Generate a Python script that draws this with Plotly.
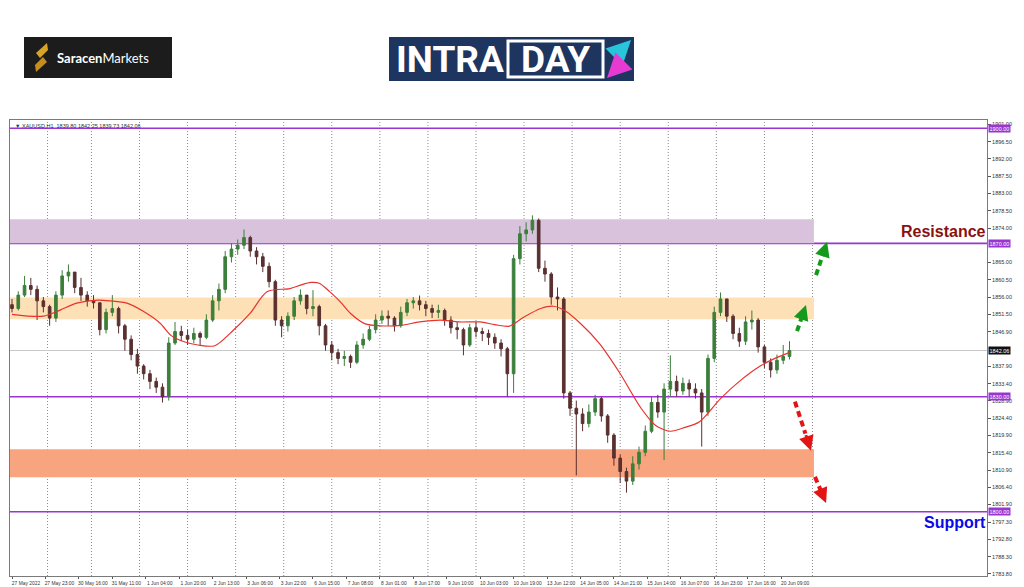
import plotly.graph_objects as go

# ---------------- data ----------------
time_labels = ["27 May 2022", "27 May 23:00", "30 May 16:00", "31 May 11:00", "1 Jun 04:00",
               "1 Jun 20:00", "2 Jun 13:00", "3 Jun 06:00", "3 Jun 22:00", "6 Jun 15:00",
               "7 Jun 08:00", "8 Jun 01:00", "8 Jun 17:00", "9 Jun 10:00", "10 Jun 03:00",
               "10 Jun 19:00", "13 Jun 12:00", "14 Jun 05:00", "14 Jun 21:00", "15 Jun 14:00",
               "16 Jun 07:00", "16 Jun 23:00", "17 Jun 16:00", "20 Jun 09:00"]
time_label_bars = [0, 16, 32, 48, 64, 80, 96, 112, 128, 144, 160, 176, 192, 208, 224,
                   240, 256, 272, 288, 304, 320, 336, 352, 368]
day_start_bars = [17, 38, 61, 84, 107, 130, 153, 176, 199, 222, 245, 268, 291, 314, 337, 360, 383]

price_ticks = [1901.0, 1896.5, 1892.0, 1887.5, 1883.0, 1878.5, 1874.0, 1865.0, 1860.5,
               1856.0, 1851.5, 1846.9, 1837.9, 1833.4, 1828.9, 1824.4, 1819.9, 1815.4,
               1810.9, 1806.4, 1801.9, 1797.3, 1792.8, 1788.3, 1783.8]
price_tick_text = ["1901.00", "1896.50", "1892.00", "1887.50", "1883.00", "1878.50", "1874.00",
                   "1865.00", "1860.50", "1856.00", "1851.50", "1846.90",
                   "1837.90", "1833.40", "1828.90", "1824.40", "1819.90", "1815.40", "1810.90",
                   "1806.40", "1801.90", "1797.30", "1792.80", "1788.30", "1783.80"]

# candles: one candle per 3 hourly bars
candle_bars = list(range(0, 375, 3))
first_open = 1854.0
closes = [1853.0, 1856.5, 1859.0, 1858.0, 1855.0, 1853.5, 1850.5, 1856.5, 1861.5, 1862.5,
          1858.5, 1856.5, 1855.0, 1854.5, 1847.5, 1852.0, 1853.0, 1848.5, 1845.0, 1841.0,
          1838.0, 1836.0, 1834.0, 1832.5, 1830.0, 1844.0, 1847.0, 1846.0, 1845.0, 1846.5,
          1845.5, 1850.0, 1855.0, 1858.0, 1866.5, 1868.5, 1869.5, 1871.5, 1868.0, 1866.5,
          1864.0, 1860.0, 1850.0, 1848.5, 1851.0, 1855.0, 1856.5, 1853.0, 1853.5, 1848.5,
          1843.5, 1841.5, 1840.0, 1840.5, 1839.0, 1843.5, 1845.0, 1847.5, 1850.0, 1851.0,
          1850.5, 1848.5, 1852.0, 1854.5, 1855.0, 1854.0, 1853.0, 1852.0, 1852.5, 1850.0,
          1848.0, 1847.5, 1843.5, 1848.0, 1847.0, 1846.5, 1845.5, 1844.0, 1842.5, 1836.0,
          1866.0, 1872.5, 1873.5, 1876.0, 1863.5, 1862.0, 1856.0, 1855.5, 1831.0, 1827.0,
          1825.5, 1823.0, 1826.0, 1829.5, 1825.0, 1820.0, 1814.0, 1810.5, 1808.0, 1812.5,
          1815.5, 1821.0, 1828.5, 1826.0, 1832.0, 1834.0, 1831.5, 1833.5, 1832.0, 1831.0,
          1826.0, 1840.0, 1852.0, 1855.5, 1851.0, 1846.5, 1844.5, 1849.5, 1850.0, 1843.0,
          1839.0, 1837.0, 1839.5, 1840.5, 1842.06]
highs = [1855.5, 1857.5, 1861.5, 1861.0, 1859.0, 1856.0, 1854.0, 1857.5, 1863.0, 1864.5,
         1862.0, 1861.0, 1857.5, 1856.5, 1854.5, 1853.0, 1856.5, 1853.5, 1849.0, 1846.0,
         1842.5, 1838.5, 1837.0, 1835.0, 1833.5, 1845.5, 1849.5, 1848.5, 1847.5, 1848.0,
         1847.0, 1851.5, 1856.5, 1859.5, 1868.0, 1870.0, 1871.0, 1873.6, 1872.0, 1869.0,
         1867.5, 1865.0, 1860.5, 1851.0, 1852.0, 1856.0, 1858.0, 1856.5, 1857.8, 1854.0,
         1849.0, 1844.5, 1842.5, 1842.0, 1841.0, 1844.5, 1846.5, 1848.5, 1851.5, 1852.5,
         1852.5, 1851.0, 1853.5, 1855.5, 1856.0, 1856.4, 1855.0, 1854.0, 1854.0, 1853.0,
         1851.0, 1849.5, 1848.0, 1849.0, 1849.5, 1848.0, 1847.5, 1846.5, 1845.0, 1843.0,
         1867.0, 1874.5, 1875.5, 1877.3, 1876.5, 1865.5, 1862.5, 1858.5, 1856.0, 1831.5,
         1829.0, 1827.0, 1828.0, 1830.5, 1830.0, 1825.5, 1820.5, 1815.0, 1811.5, 1814.5,
         1817.0, 1822.5, 1830.0, 1830.5, 1833.5, 1840.8, 1835.5, 1835.0, 1834.5, 1833.5,
         1832.0, 1841.0, 1853.5, 1857.2, 1855.5, 1851.5, 1848.0, 1851.0, 1852.5, 1850.5,
         1843.5, 1840.0, 1841.0, 1843.5, 1844.5]
lows = [1852.0, 1852.5, 1856.0, 1856.5, 1850.0, 1852.0, 1848.5, 1849.5, 1855.5, 1860.0,
        1857.0, 1855.0, 1853.5, 1853.0, 1846.0, 1846.5, 1851.0, 1846.5, 1842.0, 1839.5,
        1836.0, 1834.5, 1832.0, 1831.0, 1828.5, 1829.0, 1843.5, 1844.5, 1843.5, 1844.0,
        1843.5, 1845.0, 1849.5, 1852.5, 1857.0, 1865.0, 1867.0, 1868.5, 1866.5, 1864.5,
        1862.5, 1858.5, 1848.5, 1845.5, 1847.0, 1850.0, 1854.0, 1851.5, 1851.0, 1846.0,
        1842.0, 1839.5, 1838.5, 1838.0, 1837.5, 1838.5, 1842.5, 1844.5, 1846.5, 1849.0,
        1848.5, 1847.0, 1848.0, 1851.0, 1853.0, 1852.5, 1851.0, 1850.5, 1850.5, 1848.5,
        1846.5, 1845.0, 1840.8, 1843.0, 1845.5, 1844.5, 1843.5, 1842.5, 1840.5, 1830.0,
        1831.0, 1864.5, 1870.5, 1872.5, 1862.5, 1860.0, 1854.0, 1852.5, 1829.5, 1825.0,
        1809.5, 1821.0, 1822.0, 1825.0, 1823.5, 1818.0, 1812.0, 1807.5, 1805.0, 1807.0,
        1811.0, 1814.5, 1820.5, 1824.5, 1813.5, 1830.0, 1830.0, 1830.5, 1830.0, 1829.5,
        1817.0, 1825.0, 1839.0, 1851.0, 1849.5, 1845.0, 1843.0, 1843.5, 1847.5, 1841.5,
        1837.5, 1835.0, 1836.0, 1838.5, 1839.7]
opens = [first_open] + closes[:-1]

# moving average
ma_bars = [0, 15, 23, 31, 41, 47, 55, 63, 71, 76, 82, 89, 97, 106, 114, 122, 133, 138, 143, 147,
           152, 157, 162, 169, 176, 186, 195, 205, 214, 224, 231, 238, 245, 253, 259, 264, 272,
           281, 291, 301, 308, 315, 322, 329, 339, 348, 358, 365, 372]
ma_values = [1851.5, 1851.0, 1852.6, 1854.4, 1855.2, 1855.0, 1854.4, 1852.2, 1849.1, 1846.0,
             1844.4, 1843.5, 1843.3, 1847.4, 1851.8, 1857.4, 1858.2, 1859.1, 1859.8, 1859.6,
             1857.4, 1854.8, 1851.7, 1849.0, 1848.5, 1848.6, 1849.5, 1850.0, 1849.5, 1849.5,
             1848.8, 1848.4, 1850.8, 1853.0, 1853.6, 1852.6, 1849.1, 1843.9, 1836.0, 1827.0,
             1822.5, 1821.0, 1822.0, 1823.5, 1829.5, 1834.0, 1838.0, 1840.0, 1841.5]

# key levels and zones
level_lines = [1900.0, 1870.0, 1830.0, 1800.0]
level_labels = ["1900.00", "1870.00", "1830.00", "1800.00"]
current_price = 1842.06
zones = [(1870.0, 1876.3, "#d9c3dc"), (1850.2, 1855.9, "#fde0b6"), (1809.0, 1816.3, "#f8a47e")]
zone_end_bar = 383.7

# scenario arrows: (start bar, start price, tip bar, tip price, colour)
scenario_arrows = [(375.6, 1847.1, 379.9, 1853.9, "#139a1c"),
                   (384.7, 1861.7, 390.0, 1870.4, "#139a1c"),
                   (374.6, 1828.7, 382.3, 1815.9, "#e31414"),
                   (384.2, 1809.1, 389.5, 1802.3, "#e31414")]

header_text = "▼ XAUUSD,H1  1839.80 1842.25 1839.73 1842.06"

# ---------------- figure ----------------
W, H = 1024, 587
ML, MR, MT, MB = 10, 37, 120, 11
PW, PH = W - ML - MR, H - MT - MB


def px(x):
    return (x - ML) / PW


def py(y):
    return (H - MB - y) / PH


SMALL = dict(family="Liberation Sans", size=5.5, color="#333333")
XFONT = dict(family="Liberation Sans", size=4.9, color="#333333")

fig = go.Figure()

fig.add_trace(go.Candlestick(
    x=candle_bars, open=opens, high=highs, low=lows, close=closes,
    increasing=dict(line=dict(color="#3b7f3b", width=1), fillcolor="#3b7f3b"),
    decreasing=dict(line=dict(color="#5a3030", width=1), fillcolor="#5a3030"),
    whiskerwidth=0, showlegend=False, hoverinfo="skip"))

fig.add_trace(go.Scatter(x=ma_bars, y=ma_values, mode="lines",
                         line=dict(color="#e8322e", width=1.2, shape="spline", smoothing=0.8),
                         showlegend=False, hoverinfo="skip"))

shapes = []
for lo, hi, col in zones:
    shapes.append(dict(type="rect", xref="x", yref="y", x0=-0.96, x1=zone_end_bar, y0=lo, y1=hi,
                       fillcolor=col, line=dict(width=0), layer="below"))
for b in day_start_bars:
    shapes.append(dict(type="line", xref="x", yref="paper", x0=b, x1=b, y0=0, y1=1,
                       line=dict(color="#8c8c8c", width=1, dash="1px,2px"), layer="below"))
shapes.append(dict(type="line", xref="paper", yref="y", x0=0, x1=1, y0=current_price, y1=current_price,
                   line=dict(color="#c8c8c8", width=1), layer="below"))
for lv in level_lines:
    shapes.append(dict(type="line", xref="paper", yref="y", x0=0, x1=1, y0=lv, y1=lv,
                       line=dict(color="#9a35d0", width=1.6), layer="below"))

annotations = []
for x0, y0, x1, y1, col in scenario_arrows:
    hx = x1 + 0.35 * (x0 - x1)
    hy = y1 + 0.35 * (y0 - y1)
    shapes.append(dict(type="line", xref="x", yref="y", x0=x0, y0=y0, x1=hx, y1=hy,
                       line=dict(color=col, width=4, dash="6px,4px")))
    annotations.append(dict(x=x1, y=y1, xref="x", yref="y", ax=hx, ay=hy, axref="x", ayref="y",
                            text="", showarrow=True, arrowhead=2, arrowwidth=3, arrowsize=1,
                            arrowcolor=col, standoff=0))

for lv, lab in zip(level_lines, level_labels):
    annotations.append(dict(x=1, y=lv, xref="paper", yref="y", xanchor="left", yanchor="middle",
                            xshift=1, text=lab, showarrow=False, bgcolor="#9a35d0", borderpad=0.5,
                            font=dict(family="Liberation Sans", size=5.5, color="white")))
annotations.append(dict(x=1, y=current_price, xref="paper", yref="y", xanchor="left", yanchor="middle",
                        xshift=1, text=f"{current_price:.2f}", showarrow=False, bgcolor="#111111",
                        borderpad=0.5, font=dict(family="Liberation Sans", size=5.5, color="white")))

annotations.append(dict(x=0, y=1, xref="paper", yref="paper", xanchor="left", yanchor="top",
                        xshift=3, yshift=-1, text=header_text, showarrow=False, font=SMALL))

annotations.append(dict(x=px(988), y=1873.2, xref="paper", yref="y", xanchor="right", yanchor="middle",
                        text="<b>Resistance</b>", showarrow=False,
                        font=dict(family="Liberation Sans", size=16, color="#8b1010")))
annotations.append(dict(x=px(988), y=1797.3, xref="paper", yref="y", xanchor="right", yanchor="middle",
                        text="<b>Support</b>", showarrow=False,
                        font=dict(family="Liberation Sans", size=16, color="#0a0ae6")))

# ---- logos ----
shapes.append(dict(type="rect", xref="paper", yref="paper", x0=px(24), x1=px(172), y0=py(78), y1=py(37),
                   fillcolor="#1c1c1c", line=dict(width=0)))


def path(points):
    return "M " + " L ".join(f"{px(a)},{py(b)}" for a, b in points) + " Z"


shapes.append(dict(type="path", xref="paper", yref="paper",
                   path=path([(47, 43), (36, 53), (40, 58), (48, 50)]),
                   fillcolor="#d8a426", line=dict(width=0)))
shapes.append(dict(type="path", xref="paper", yref="paper",
                   path=path([(36, 72), (47, 62), (43, 57), (35, 65)]),
                   fillcolor="#c48d1c", line=dict(width=0)))
annotations.append(dict(x=px(55), y=py(57.5), xref="paper", yref="paper", xanchor="left", yanchor="middle",
                        text="<b>Saracen</b>Markets", showarrow=False,
                        font=dict(family="Lato", size=13, color="white")))

shapes.append(dict(type="rect", xref="paper", yref="paper", x0=px(389), x1=px(634), y0=py(81), y1=py(37),
                   fillcolor="#1d355f", line=dict(width=0)))
shapes.append(dict(type="rect", xref="paper", yref="paper", x0=px(508), x1=px(603), y0=py(77), y1=py(41),
                   fillcolor="rgba(0,0,0,0)", line=dict(color="white", width=3)))
annotations.append(dict(x=px(394), y=py(59.5), xref="paper", yref="paper", xanchor="left", yanchor="middle",
                        text="<b>INTRA</b>", showarrow=False,
                        font=dict(family="Roboto", size=37, color="white")))
annotations.append(dict(x=px(555.5), y=py(59.5), xref="paper", yref="paper", xanchor="center",
                        yanchor="middle", text="<b>DAY</b>", showarrow=False,
                        font=dict(family="Roboto", size=37, color="white")))
annotations.append(dict(x=px(631), y=py(40), xref="paper", yref="paper", ax=-18, ay=18, text="",
                        showarrow=True, arrowhead=2, arrowwidth=6, arrowsize=0.8, arrowcolor="#29c4da",
                        standoff=0))
annotations.append(dict(x=px(607), y=py(78), xref="paper", yref="paper", ax=18, ay=-18, text="",
                        showarrow=True, arrowhead=2, arrowwidth=6, arrowsize=0.8, arrowcolor="#e53bd3",
                        standoff=0))

fig.update_layout(
    width=W, height=H,
    margin=dict(l=ML, r=MR, t=MT, b=MB),
    paper_bgcolor="white", plot_bgcolor="white",
    shapes=shapes, annotations=annotations,
    showlegend=False, boxgap=0.4,
    xaxis=dict(range=[-0.96, 466.5], tickmode="array", tickvals=time_label_bars, ticktext=time_labels,
               tickfont=XFONT, tickangle=0, ticks="outside", ticklen=2, tickcolor="#555555",
               showgrid=False, zeroline=False, showline=True, mirror=True, linecolor="#7a7a7a",
               linewidth=1, rangeslider=dict(visible=False), ticklabelshift=14, ticklabelstandoff=0,
               automargin=False),
    yaxis=dict(range=[1783.26, 1902.16], side="right", tickmode="array", tickvals=price_ticks,
               ticktext=price_tick_text, tickfont=SMALL, ticks="outside", ticklen=3,
               tickcolor="#555555", showgrid=False, zeroline=False, showline=True, mirror=True,
               linecolor="#7a7a7a", linewidth=1, automargin=False),
)

fig.write_html("out.html", config={"displayModeBar": False},
               post_script="document.body.style.margin='0';document.body.style.padding='0';"
                           "document.body.style.overflow='hidden';")
